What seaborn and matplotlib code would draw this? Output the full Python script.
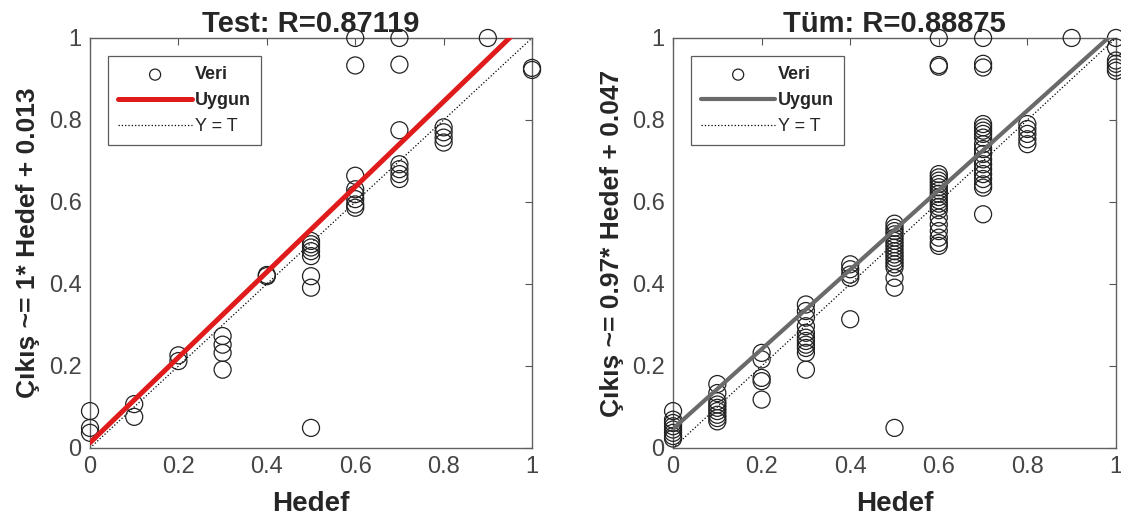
import numpy as np
import pandas as pd
import matplotlib
matplotlib.use("Agg")
import matplotlib.pyplot as plt
import seaborn as sns

# test set: target values and network outputs
test_target = [0, 0, 0,
               0.1, 0.1,
               0.2, 0.2,
               0.3, 0.3, 0.3, 0.3,
               0.4, 0.4,
               0.5, 0.5, 0.5, 0.5, 0.5, 0.5, 0.5, 0.5,
               0.6, 0.6, 0.6, 0.6, 0.6, 0.6, 0.6, 0.6,
               0.7, 0.7, 0.7, 0.7, 0.7, 0.7, 0.7,
               0.8, 0.8, 0.8, 0.8,
               0.9,
               1.0, 1.0]
test_output = [0.09, 0.049, 0.037,
               0.107, 0.076,
               0.226, 0.212,
               0.273, 0.252, 0.232, 0.191,
               0.422, 0.419,
               0.505, 0.497, 0.489, 0.48, 0.468, 0.419, 0.391, 0.049,
               1.0, 0.933, 0.664, 0.631, 0.619, 0.607, 0.594, 0.586,
               1.0, 0.935, 0.775, 0.692, 0.68, 0.668, 0.656,
               0.782, 0.77, 0.757, 0.745,
               1.0,
               0.927, 0.922]

# all data
all_target = ([0] * 8 + [0.1] * 9 + [0.2] * 5 + [0.3] * 11 + [0.4] * 5
              + [0.5] * 17 + [0.6] * 21 + [0.7] * 19 + [0.8] * 5 + [0.9] + [1.0] * 6)
all_output = [0.09, 0.069, 0.061, 0.053, 0.045, 0.037, 0.029, 0.023,
              0.156, 0.134, 0.114, 0.106, 0.098, 0.09, 0.081, 0.073, 0.065,
              0.232, 0.216, 0.171, 0.163, 0.118,
              0.35, 0.334, 0.318, 0.297, 0.281, 0.269, 0.261, 0.252, 0.244, 0.232, 0.191,
              0.448, 0.436, 0.423, 0.415, 0.314,
              0.547, 0.537, 0.529, 0.521, 0.513, 0.505, 0.497, 0.489, 0.48, 0.472,
              0.464, 0.456, 0.448, 0.44, 0.415, 0.391, 0.049,
              1.0, 0.934, 0.93, 0.668, 0.66, 0.652, 0.644, 0.636, 0.628, 0.62, 0.612,
              0.604, 0.596, 0.588, 0.58, 0.562, 0.545, 0.529, 0.513, 0.5, 0.493,
              1.0, 0.937, 0.928, 0.79, 0.782, 0.774, 0.766, 0.757, 0.741, 0.729,
              0.717, 0.704, 0.692, 0.68, 0.668, 0.656, 0.643, 0.635, 0.57,
              0.79, 0.778, 0.766, 0.753, 0.741,
              1.0,
              1.0, 0.977, 0.945, 0.937, 0.928, 0.92]

test_fit = (1.04, 0.013)
all_fit = (0.97, 0.047)
target_range = [0, 1]

titles = ["Test: R=0.87119", "Tüm: R=0.88875"]
ylabels = ["Çıkış ~= 1* Hedef + 0.013", "Çıkış ~= 0.97* Hedef + 0.047"]
fit_colors = ["#e01b1b", "#6a6a6a"]
fit_widths = [3.6, 3.0]
ticks = [0, 0.2, 0.4, 0.6, 0.8, 1]
tick_labels = ["0", "0.2", "0.4", "0.6", "0.8", "1"]

sns.set_style("white")
plt.rcParams["font.family"] = ["Liberation Sans", "DejaVu Sans"]

fig = plt.figure(figsize=(11.21, 5.26), dpi=100)
ax1 = fig.add_axes([0.0803, 0.1483, 0.3943, 0.7795])
ax2 = fig.add_axes([0.6004, 0.1483, 0.3951, 0.7795])

panels = [(ax1, test_target, test_output, test_fit),
          (ax2, all_target, all_output, all_fit)]

for i, (ax, tx, ty, fit) in enumerate(panels):
    df = pd.DataFrame({"Hedef": tx, "Cikis": ty})
    sc = sns.scatterplot(data=df, x="Hedef", y="Cikis", ax=ax, marker="o", s=150,
                         facecolors="none", edgecolor="#222222", linewidth=0.9,
                         label="Veri", zorder=3)
    sc.collections[0].set_clip_on(False)
    xs = np.array(target_range, dtype=float)
    ln = pd.DataFrame({"x": xs, "fit": fit[0] * xs + fit[1], "yt": xs})
    sns.lineplot(data=ln, x="x", y="fit", ax=ax, color=fit_colors[i],
                 linewidth=fit_widths[i], label="Uygun", zorder=4)
    sns.lineplot(data=ln, x="x", y="yt", ax=ax, color="black", linewidth=0.9,
                 linestyle=":", label="Y = T", zorder=2)

    ax.set_xlim(0, 1)
    ax.set_ylim(0, 1)
    ax.set_xticks(ticks)
    ax.set_yticks(ticks)
    ax.set_xticklabels(tick_labels, fontsize=17, color="#454545")
    ax.set_yticklabels(tick_labels, fontsize=17, color="#454545")
    ax.tick_params(direction="in", length=5, width=0.8, color="#555555",
                   top=True, right=True, pad=6)
    for sp in ax.spines.values():
        sp.set_color("#606060")
        sp.set_linewidth(1.0)

    ax.set_title(titles[i], fontsize=21, fontweight="bold", pad=4)
    ax.set_xlabel("Hedef", fontsize=20, fontweight="bold", labelpad=9)
    ax.set_ylabel(ylabels[i], fontsize=19, fontweight="bold", labelpad=6)

    leg = ax.legend(loc="upper left", bbox_to_anchor=(0.041, 0.955), fontsize=13,
                    frameon=True, fancybox=False, edgecolor="#333333",
                    handlelength=4.1, handletextpad=0.15, labelspacing=0.5,
                    borderpad=0.55, borderaxespad=0, markerscale=0.65)
    leg.get_frame().set_linewidth(0.9)
    txts = leg.get_texts()
    txts[0].set_fontweight("bold")
    txts[1].set_fontweight("bold")

plt.savefig("out.png", dpi=100)
